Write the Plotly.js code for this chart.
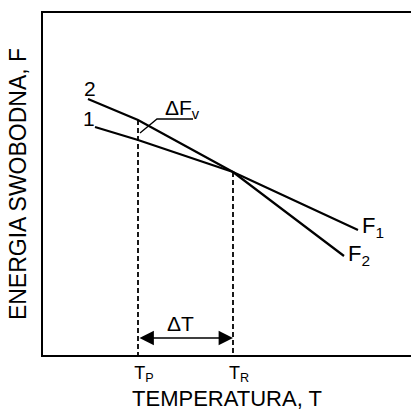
<!DOCTYPE html>
<html>
<head>
<meta charset="utf-8">
<script src="https://cdn.plot.ly/plotly-3.0.1.min.js"></script>
<style>html,body{margin:0;padding:0;background:#fff;}#chart{width:411px;height:411px;}</style>
</head>
<body>
<div id="chart"></div>
<script>
// Free energy curves (arbitrary units)
const tempF2 = [45, 95, 190, 245, 301];
const energyF2 = [256, 235, 183, 141, 99];
const tempF1 = [52, 95, 190, 257, 315];
const energyF1 = [228, 215, 183, 152, 125];
// Characteristic temperatures
const T_P = 95;
const T_R = 190;
const energyAtTP = 235;   // curve 2 at T_P
const energyAtTR = 183;   // intersection at T_R
const tickVals = [T_P, T_R];
const tickText = ['T<sub>P</sub>', 'T<sub>R</sub>'];
// ΔF_v leader line
const leaderT = [97, 114, 150];
const leaderF = [222, 236, 236];
const deltaTLevel = 17;

const font = 'Liberation Sans, Arial, sans-serif';
const black = '#000';

const traces = [
  {x: tempF2, y: energyF2, mode: 'lines', line: {color: black, width: 2.2}, hoverinfo: 'skip'},
  {x: tempF1, y: energyF1, mode: 'lines', line: {color: black, width: 2.2}, hoverinfo: 'skip'},
  {x: [T_P, T_P], y: [energyAtTP, 0], mode: 'lines', line: {color: black, width: 1.8, dash: '5px,3px'}, hoverinfo: 'skip'},
  {x: [T_R, T_R], y: [energyAtTR, 0], mode: 'lines', line: {color: black, width: 1.8, dash: '5px,3px'}, hoverinfo: 'skip'},
  {x: leaderT, y: leaderF, mode: 'lines', line: {color: black, width: 1.3}, hoverinfo: 'skip'}
];

const layout = {
  width: 411, height: 411,
  margin: {l: 43, r: 0, t: 13, b: 56},
  paper_bgcolor: '#fff', plot_bgcolor: '#fff',
  showlegend: false,
  font: {family: font, color: black},
  xaxis: {
    range: [0, 368], showgrid: false, zeroline: false,
    showline: true, mirror: true, linecolor: black, linewidth: 2,
    ticks: '', tickvals: tickVals, ticktext: tickText,
    tickfont: {size: 18, family: font, color: black},
    ticklabelshift: 6, ticklabelstandoff: 0,
    title: {text: 'TEMPERATURA, T', font: {size: 22, family: font, color: black}, standoff: 7},
    fixedrange: true
  },
  yaxis: {
    range: [0, 342], showgrid: false, zeroline: false,
    showline: true, mirror: false, linecolor: black, linewidth: 2,
    ticks: '', showticklabels: false,
    title: {text: 'ENERGIA SWOBODNA, F', font: {size: 23, family: font, color: black}, standoff: 8},
    fixedrange: true
  },
  annotations: [
    {x: 47, y: 267, text: '2', showarrow: false, font: {size: 21}},
    {x: 46, y: 237, text: '1', showarrow: false, font: {size: 21}},
    {x: 139, y: 246, text: 'ΔF<sub>v</sub>', showarrow: false, font: {size: 21}},
    {x: 330, y: 128, text: 'F<sub>1</sub>', showarrow: false, font: {size: 22}},
    {x: 316, y: 100, text: 'F<sub>2</sub>', showarrow: false, font: {size: 22}},
    {x: 137, y: 32, text: 'ΔT', showarrow: false, font: {size: 21}},
    {x: T_R, y: deltaTLevel, ax: T_P, ay: deltaTLevel, axref: 'x', ayref: 'y', xref: 'x', yref: 'y',
     text: '', showarrow: true, arrowside: 'end+start', arrowhead: 2, arrowsize: 1.8, arrowwidth: 1.6, arrowcolor: black}
  ]
};

Plotly.newPlot('chart', traces, layout, {displayModeBar: false, staticPlot: true});
</script>
</body>
</html>
